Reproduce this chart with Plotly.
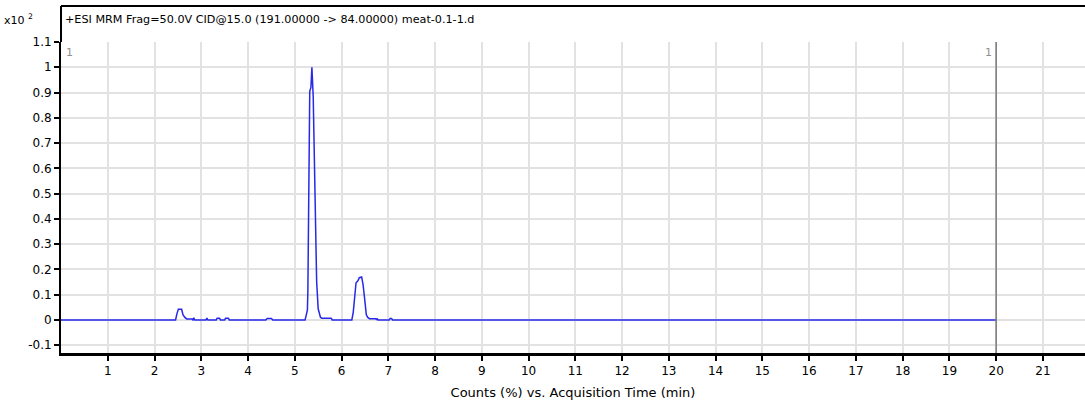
import plotly.graph_objects as go

# Chromatogram data (time in min, intensity in x10^2 counts %)
time_min = [0.00, 2.45, 2.48, 2.51, 2.58, 2.61, 2.65, 2.69, 2.80, 2.82, 2.84, 2.86,
            3.10, 3.12, 3.14, 3.32, 3.34, 3.39, 3.41, 3.50, 3.52, 3.58, 3.60,
            4.38, 4.41, 4.50, 4.53,
            5.22, 5.24, 5.27, 5.28, 5.30, 5.32, 5.345, 5.366, 5.394, 5.437, 5.467, 5.50, 5.55,
            5.58, 5.78, 5.80,
            6.22, 6.25, 6.28, 6.31, 6.35, 6.38, 6.43, 6.46, 6.49, 6.53, 6.56, 6.60, 6.73, 6.75,
            6.76, 6.78, 7.02, 7.04, 7.07, 7.09, 20.00]
intensity = [0.0, 0.0, 0.025, 0.042, 0.042, 0.02, 0.01, 0.004, 0.004, 0.0, 0.008, 0.0,
             0.0, 0.007, 0.0, 0.0, 0.007, 0.007, 0.0, 0.0, 0.007, 0.007, 0.0,
             0.0, 0.006, 0.006, 0.0,
             0.0, 0.015, 0.04, 0.117, 0.447, 0.905, 0.92, 1.0, 0.885, 0.455, 0.154, 0.044, 0.01,
             0.007, 0.007, 0.0,
             0.0, 0.03, 0.10, 0.147, 0.155, 0.167, 0.17, 0.14, 0.09, 0.02, 0.01, 0.005, 0.005, 0.0,
             0.006, 0.0, 0.0, 0.006, 0.006, 0.0, 0.0]

x_ticks = list(range(1, 22))
y_ticks = [-0.1, 0, 0.1, 0.2, 0.3, 0.4, 0.5, 0.6, 0.7, 0.8, 0.9, 1.0, 1.1]
y_tick_text = ["-0.1", "0", "0.1", "0.2", "0.3", "0.4", "0.5", "0.6", "0.7", "0.8", "0.9", "1", "1.1"]
end_time = 20

title_text = "+ESI MRM Frag=50.0V CID@15.0 (191.00000 -> 84.00000) meat-0.1-1.d"
x_title = "Counts (%) vs. Acquisition Time (min)"

FONT = "DejaVu Sans"
W, H = 1085, 407
L, R, T, B = 61, 0, 42, 54
plot_h = H - T - B
plot_w = W - L - R
top_frame = 1 + (T - 6) / plot_h

fig = go.Figure()
fig.add_trace(go.Scatter(x=time_min, y=intensity, mode="lines",
                         line=dict(color="rgb(40,40,235)", width=1.5),
                         hoverinfo="skip", showlegend=False))

fig.update_layout(
    width=W, height=H,
    margin=dict(l=L, r=R, t=T, b=B),
    paper_bgcolor="white", plot_bgcolor="white",
    font=dict(family=FONT, size=12, color="black"),
    xaxis=dict(range=[0, 21.9], tickmode="array", tickvals=x_ticks,
               ticktext=[str(v) for v in x_ticks],
               showgrid=True, gridcolor="#e2e2e2", gridwidth=1.5,
               showline=True, linecolor="black", linewidth=2.5,
               ticks="outside", ticklen=5, tickwidth=1.5, tickcolor="black",
               tickfont=dict(size=12),
               zeroline=False, title=dict(text=x_title, standoff=11,
                                          font=dict(size=13))),
    yaxis=dict(range=[-0.131, 1.1], tickmode="array", tickvals=y_ticks,
               ticktext=y_tick_text, tickfont=dict(size=12),
               showgrid=True, gridcolor="#e2e2e2", gridwidth=1.5,
               showline=True, linecolor="black", linewidth=2,
               ticks="outside", ticklen=5, tickwidth=1.5, tickcolor="black",
               zeroline=False),
)

# frame above plot (title box)
fig.add_shape(type="line", xref="paper", yref="paper", x0=0, x1=1.01,
              y0=top_frame, y1=top_frame, line=dict(color="black", width=2))
fig.add_shape(type="line", xref="paper", yref="paper", x0=0, x1=0,
              y0=1, y1=top_frame, line=dict(color="black", width=2))
# end-of-run marker
fig.add_shape(type="line", xref="x", yref="paper", x0=end_time, x1=end_time,
              y0=0, y1=1, line=dict(color="#7a7a7a", width=1.5))

fig.add_annotation(xref="paper", yref="paper", x=0.002, y=1 + (T - 19) / plot_h,
                   text=title_text, showarrow=False, xanchor="left", yanchor="middle",
                   font=dict(family=FONT, size=11.2, color="black"))
fig.add_annotation(xref="paper", yref="paper", x=(-L + 2) / plot_w,
                   y=1 + (T - 19) / plot_h,
                   text="x10 <sup>2</sup>", showarrow=False, xanchor="left", yanchor="middle",
                   font=dict(family=FONT, size=11, color="black"))
fig.add_annotation(xref="paper", yref="paper", x=0.003, y=1 - 2 / plot_h,
                   text="1", showarrow=False, xanchor="left", yanchor="top",
                   font=dict(family=FONT, size=11, color="#909090"))
fig.add_annotation(xref="x", yref="paper", x=end_time, y=1 - 2 / plot_h,
                   text="1", showarrow=False, xanchor="right", yanchor="top", xshift=-2,
                   font=dict(family=FONT, size=11, color="#909090"))

fig.write_html("out.html", config={"displayModeBar": False},
               post_script="document.body.style.margin='0px';document.body.style.overflow='hidden';")
